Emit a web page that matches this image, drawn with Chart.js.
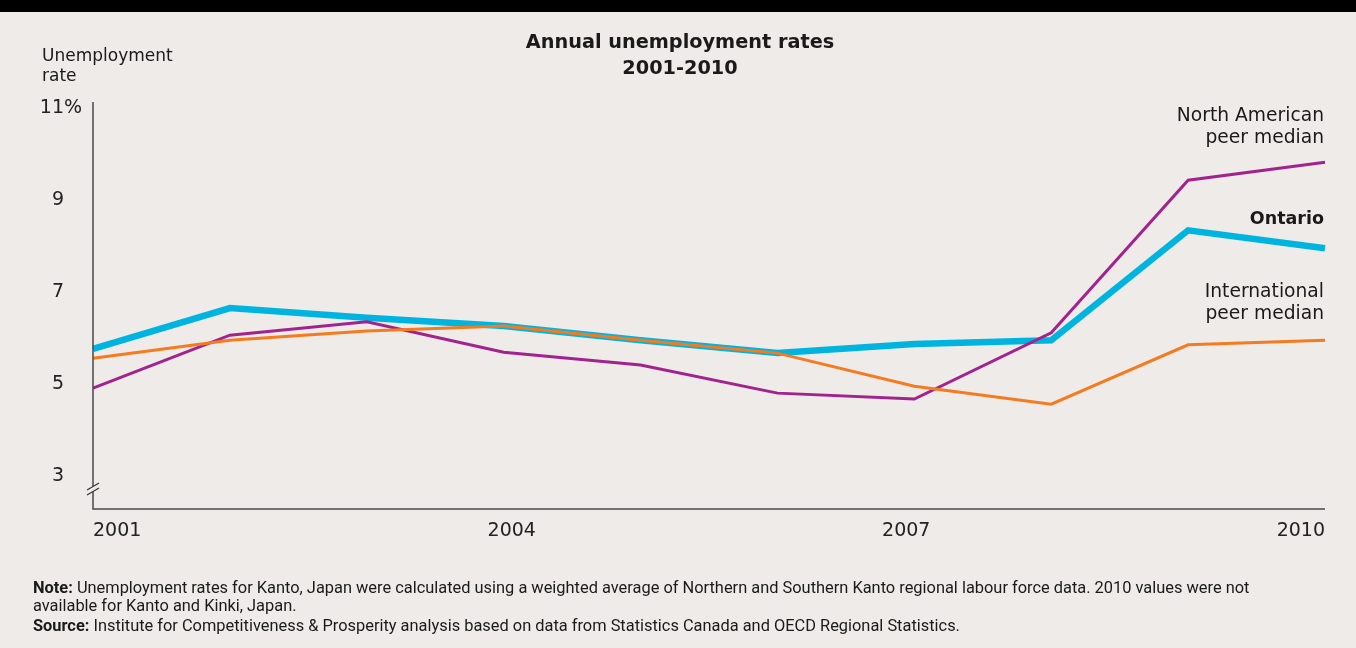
<!DOCTYPE html>
<html>
<head>
<meta charset="utf-8">
<script src="https://cdn.jsdelivr.net/npm/chart.js@4.4.1/dist/chart.umd.min.js"></script>
<style>
  html, body { margin: 0; padding: 0; }
  body {
    width: 1356px; height: 648px; overflow: hidden;
    background: #eeebe8; position: relative;
    font-family: "DejaVu Sans", sans-serif; color: #1a1a1a;
  }
  .topbar { position: absolute; left: 0; top: 0; width: 1356px; height: 12px; background: #000; }
  #chart { position: absolute; left: 0; top: 0; }
  .title {
    position: absolute; left: 430px; width: 500px; top: 29px;
    text-align: center; font-weight: 700; font-size: 19.3px; line-height: 26px;
  }
  .ylabel { position: absolute; left: 42px; top: 45px; font-size: 17px; line-height: 20px; }
  .slabel { position: absolute; right: 32px; text-align: right; font-size: 18.7px; line-height: 22px; }
  .notes {
    position: absolute; left: 33px; top: 579px; white-space: nowrap;
    font-family: "Liberation Sans Narrow", "Roboto", sans-serif; font-size: 16.4px; line-height: 18px;
  }
  .notes b { font-weight: 700; }
  .notes .src { display: block; margin-top: 2px; }
</style>
</head>
<body>
<div class="topbar"></div>
<canvas id="chart" width="1356" height="648"></canvas>
<div class="title">Annual unemployment rates<br>2001-2010</div>
<div class="ylabel">Unemployment<br>rate</div>
<div class="slabel" style="top:104px">North American<br>peer median</div>
<div class="slabel" style="top:207px; font-size:17.5px; font-weight:700">Ontario</div>
<div class="slabel" style="top:280px">International<br>peer median</div>
<div class="notes">
  <b>Note:</b> Unemployment rates for Kanto, Japan were calculated using a weighted average of Northern and Southern Kanto regional labour force data. 2010 values were not<br>
  available for Kanto and Kinki, Japan.
  <span class="src"><b>Source:</b> Institute for Competitiveness &amp; Prosperity analysis based on data from Statistics Canada and OECD Regional Statistics.</span>
</div>
<script>
// Years and unemployment rates (%)
const years = [2001, 2002, 2003, 2004, 2005, 2006, 2007, 2008, 2009, 2010];
const ontario = [5.74, 6.63, 6.42, 6.24, 5.93, 5.65, 5.85, 5.93, 8.32, 7.93];
const northAmerican = [4.89, 6.04, 6.33, 5.67, 5.39, 4.78, 4.65, 6.09, 9.41, 9.80];
const international = [5.54, 5.93, 6.13, 6.24, 5.93, 5.65, 4.93, 4.54, 5.83, 5.93];

const yTicks = [3, 5, 7, 9, 11];
const xTicks = [2001, 2004, 2007, 2010];

function toPoints(values) {
    return values.map((v, i) => ({ x: years[i], y: v }));
}

// Axis lines, break mark and tick labels
const axisPlugin = {
    id: 'axisPlugin',
    afterDraw(chart) {
        const ctx = chart.ctx;
        const area = chart.chartArea;
        const xs = chart.scales.x;
        const ys = chart.scales.y;
        ctx.save();
        ctx.strokeStyle = '#4a4a4a';
        ctx.lineWidth = 1.5;
        ctx.beginPath();
        ctx.moveTo(area.left, area.top);
        ctx.lineTo(area.left, area.bottom);
        ctx.lineTo(area.right, area.bottom);
        ctx.stroke();

        // axis break
        const by = area.bottom - 18;
        ctx.fillStyle = '#eeebe8';
        ctx.fillRect(area.left - 2, by - 5, 4, 6);
        ctx.lineWidth = 1.2;
        ctx.strokeStyle = '#333';
        [0, 5].forEach(off => {
            ctx.beginPath();
            ctx.moveTo(area.left - 6, by + 4 - off);
            ctx.lineTo(area.left + 6, by - 3 - off);
            ctx.stroke();
        });

        ctx.fillStyle = '#222';
        ctx.font = '19px "DejaVu Sans", sans-serif';
        ctx.textBaseline = 'middle';
        yTicks.forEach(t => {
            const y = ys.getPixelForValue(t) + 1;
            ctx.textAlign = 'right';
            ctx.fillText(String(t), 64, y);
            if (t === 11) {
                ctx.textAlign = 'left';
                ctx.fillText('%', 64, y);
            }
        });

        // year labels spread evenly from the left edge to the right edge
        ctx.textBaseline = 'top';
        ctx.textAlign = 'center';
        const first = xTicks[0], last = xTicks[xTicks.length - 1];
        xTicks.forEach(t => {
            const label = String(t);
            const w = ctx.measureText(label).width;
            const frac = (t - first) / (last - first);
            const x = xs.getPixelForValue(t) + (w / 2) * (1 - 2 * frac);
            ctx.fillText(label, x, area.bottom + 13);
        });
        ctx.restore();
    }
};

const line = (label, values, color, width) => ({
    label,
    data: toPoints(values),
    borderColor: color,
    borderWidth: width,
    pointRadius: 0,
    tension: 0,
    clip: false,
    borderJoinStyle: 'miter'
});

new Chart(document.getElementById('chart'), {
    type: 'line',
    data: {
        datasets: [
            line('International peer median', international, '#f47b20', 3),
            line('North American peer median', northAmerican, '#a3238e', 3),
            line('Ontario', ontario, '#00b4e0', 6.5)
        ]
    },
    options: {
        responsive: false,
        animation: false,
        layout: { padding: { left: 93, right: 31, top: 102, bottom: 139 } },
        scales: {
            x: { type: 'linear', display: false, min: 2001, max: 2010 },
            y: { type: 'linear', display: false, min: 2.261, max: 11.109 }
        },
        plugins: { legend: { display: false }, tooltip: { enabled: false } }
    },
    plugins: [axisPlugin]
});
</script>
</body>
</html>
